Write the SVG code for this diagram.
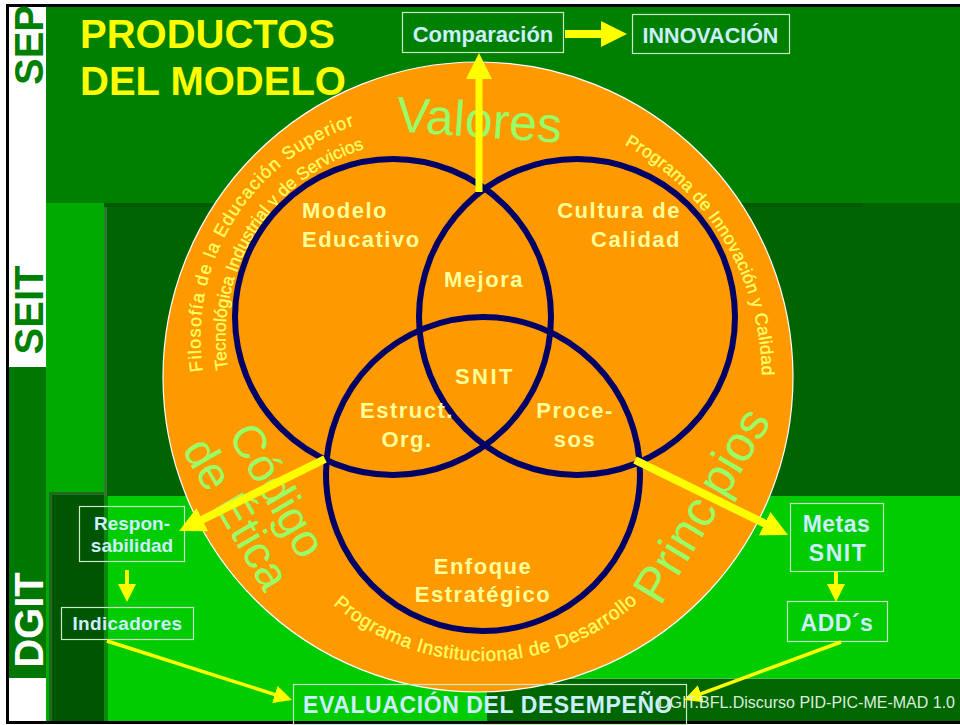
<svg xmlns="http://www.w3.org/2000/svg" xmlns:xlink="http://www.w3.org/1999/xlink" width="960" height="725" viewBox="0 0 960 725">
<style>
text{font-family:"Liberation Sans",Arial,sans-serif}
.side{font-size:40px;font-weight:bold}
.title{font-size:40px;font-weight:bold;fill:#FFFF00}
.big{font-size:50px;fill:#99FF66}
.arc{font-size:17.5px;fill:#FFFF66;stroke:#FFFF66;stroke-width:0.35}
.venn{fill:none;stroke:#000066;stroke-width:6}
.lbl{font-size:22px;font-weight:bold;fill:#FFFF99;letter-spacing:1.5px}
.box{fill:none;stroke:#C8ECC8;stroke-width:1.2}
.bt{font-weight:bold;fill:#CCEEFF}
.arr{stroke:#FFFF00;fill:none}
</style>
<defs>
<marker id="big" markerUnits="userSpaceOnUse" markerWidth="26" markerHeight="26" viewBox="0 0 26 26" refX="1" refY="13" orient="auto"><path d="M0,0 L26,13 L0,26 z" fill="#FFFF00"/></marker>
<marker id="small" markerUnits="userSpaceOnUse" markerWidth="18" markerHeight="18" viewBox="0 0 18 18" refX="1" refY="9" orient="auto"><path d="M0,0 L18,9 L0,18 z" fill="#FFFF00"/></marker>
<path id="pFil1" d="M202.95,371.04 A223.5,223.5 0 0 1 377.53,119.38"/>
<path id="pFil2" d="M227.94,369.05 A198.5,198.5 0 0 1 382.73,143.84"/>
<path id="pInn" d="M624.44,144.48 A267,267 0 0 1 759.4,415.16"/>
<path id="pDes" d="M333.11,604.58 A230,230 0 0 0 660.19,578.84"/>
</defs>

<g id="background">
<rect x="7.5" y="5.5" width="960" height="717" fill="#FFFFFF" stroke="#000000" stroke-width="3"/>
<rect x="46" y="7" width="914" height="714" fill="#008000"/>
<rect x="9" y="367" width="37" height="311" fill="#007700"/>
<line x1="46.5" y1="367" x2="46.5" y2="678" stroke="#88BB88" stroke-width="1"/>
<rect x="46" y="203" width="58" height="518" fill="#00AA00"/>
<rect x="104" y="203" width="856" height="293" fill="#006400"/>
<rect x="104" y="203" width="759" height="4" fill="#005A00"/>
<rect x="104" y="207" width="3" height="289" fill="#2A7A2A"/>
<rect x="104" y="496" width="856" height="182" fill="#00CC00"/>
<rect x="104" y="678" width="383" height="43" fill="#00CC00"/>
<rect x="104" y="496" width="4" height="225" fill="#0A8A0A"/>
<rect x="49" y="492" width="55" height="229" fill="#005500"/>
<rect x="49" y="492" width="55" height="3" fill="#1F6B1F"/>
<rect x="49" y="495" width="3" height="226" fill="#1F6B1F"/>
<rect x="487" y="678" width="473" height="43" fill="#006600"/>
<line x1="487" y1="678.5" x2="960" y2="678.5" stroke="#55BB55" stroke-width="1"/>
</g>

<g id="side-labels">
<text class="side" fill="#008000" text-anchor="middle" transform="translate(43,45) rotate(-90)">SEP</text>
<text class="side" fill="#008000" text-anchor="middle" transform="translate(43,310) rotate(-90)">SEIT</text>
<text class="side" fill="#FFFFFF" text-anchor="middle" transform="translate(43,620) rotate(-90)">DGIT</text>
</g>

<g id="modelo">
<circle cx="478" cy="377" r="315" fill="#FF9900" stroke="#FFFFFF" stroke-width="1.2"/>
<text class="arc" style="font-size:18px"><textPath xlink:href="#pFil1" style="letter-spacing:1.18px">Filosofía de la Educación Superior</textPath></text>
<text class="arc"><textPath xlink:href="#pFil2">Tecnológica Industrial y de Servicios</textPath></text>
<text class="arc"><textPath xlink:href="#pInn" style="letter-spacing:0.42px">Programa de Innovación y Calidad</textPath></text>
<text class="arc" style="font-size:19px"><textPath xlink:href="#pDes" style="letter-spacing:0.72px">Programa Institucional de Desarrollo</textPath></text>
<text class="big" text-anchor="middle" transform="translate(478,137) rotate(4)">Valores</text>
<g transform="translate(264,498) rotate(60)">
<text class="big" style="font-size:46px" text-anchor="middle" x="0" y="0">Código</text>
<text class="big" style="font-size:46px" text-anchor="middle" x="0" y="47">de Ética</text>
</g>
<text class="big" text-anchor="middle" transform="translate(716,514) rotate(-59)">Principios</text>
</g>

<g id="venn">
<circle class="venn" cx="393" cy="317" r="158"/>
<circle class="venn" cx="577" cy="317" r="158"/>
<circle class="venn" cx="483" cy="474" r="157"/>
</g>

<g id="modelo-educativo"><text class="lbl" x="302" y="218">Modelo</text><text class="lbl" x="302" y="247">Educativo</text></g>
<g id="cultura-calidad"><text class="lbl" text-anchor="end" x="681" y="218">Cultura de</text><text class="lbl" text-anchor="end" x="681" y="247">Calidad</text></g>
<g id="mejora"><text class="lbl" text-anchor="middle" x="484" y="287">Mejora</text></g>
<g id="snit"><text class="lbl" text-anchor="middle" x="485" y="384" style="letter-spacing:2.5px">SNIT</text></g>
<g id="estructura"><text class="lbl" text-anchor="middle" x="407" y="418">Estruct.</text><text class="lbl" text-anchor="middle" x="407" y="447">Org.</text></g>
<g id="procesos"><text class="lbl" text-anchor="middle" x="575" y="418">Proce-</text><text class="lbl" text-anchor="middle" x="575" y="447">sos</text></g>
<g id="enfoque"><text class="lbl" text-anchor="middle" x="483" y="574">Enfoque</text><text class="lbl" text-anchor="middle" x="483" y="602">Estratégico</text></g>

<g id="titulo">
<text class="title" x="80" y="48">PRODUCTOS</text>
<text class="title" x="80" y="95">DEL MODELO</text>
</g>

<g id="comparacion"><rect class="box" x="402.5" y="12.5" width="161" height="40"/><text class="bt" text-anchor="middle" x="483" y="42" font-size="22">Comparación</text></g>
<g id="innovacion"><rect class="box" x="632.5" y="14.5" width="157" height="39"/><text class="bt" text-anchor="middle" x="710.5" y="43" font-size="21.5">INNOVACIÓN</text></g>
<g id="responsabilidad"><rect class="box" x="79.5" y="506.5" width="105" height="55"/><text class="bt" text-anchor="middle" x="132" y="530" font-size="19">Respon-</text><text class="bt" text-anchor="middle" x="132" y="552" font-size="19">sabilidad</text></g>
<g id="indicadores"><rect class="box" x="61.5" y="607.5" width="132" height="32"/><text class="bt" text-anchor="middle" x="127.5" y="630" font-size="19" style="letter-spacing:0.3px">Indicadores</text></g>
<g id="metas"><rect class="box" x="790.5" y="503.5" width="93" height="68"/><text class="bt" text-anchor="middle" x="836.5" y="532" font-size="23" style="letter-spacing:0.5px">Metas</text><text class="bt" text-anchor="middle" x="838" y="561" font-size="23" style="letter-spacing:1.5px">SNIT</text></g>
<g id="adds"><rect class="box" x="787.5" y="601.5" width="100" height="40"/><text class="bt" text-anchor="middle" x="837" y="631" font-size="23" style="letter-spacing:0.5px">ADD´s</text></g>
<g id="evaluacion"><rect class="box" x="293.5" y="684.5" width="393" height="40"/><text class="bt" x="303" y="713" font-size="23" style="letter-spacing:0.6px">EVALUACIÓN DEL DESEMPEÑO</text></g>

<g id="connectors">
<line class="arr" x1="479" y1="192" x2="479" y2="78" stroke-width="7" marker-end="url(#big)"/>
<line class="arr" x1="565" y1="34" x2="602" y2="34" stroke-width="8" marker-end="url(#big)"/>
<line class="arr" x1="325" y1="459" x2="201.5" y2="520" stroke-width="8" marker-end="url(#big)"/>
<line class="arr" x1="635" y1="460" x2="765.5" y2="524" stroke-width="8" marker-end="url(#big)"/>
<line class="arr" x1="127" y1="570" x2="127" y2="585" stroke-width="4" marker-end="url(#small)"/>
<line class="arr" x1="107" y1="641" x2="275.8" y2="694.8" stroke-width="3.5" marker-end="url(#small)"/>
<line class="arr" x1="836" y1="572" x2="836" y2="585" stroke-width="4" marker-end="url(#small)"/>
<line class="arr" x1="841" y1="642" x2="700" y2="694.1" stroke-width="3.5" marker-end="url(#small)"/>
</g>

<g id="footer"><text x="955" y="708" text-anchor="end" font-size="16" fill="#DDEEDD">DGIT.BFL.Discurso PID-PIC-ME-MAD 1.0</text></g>
</svg>
